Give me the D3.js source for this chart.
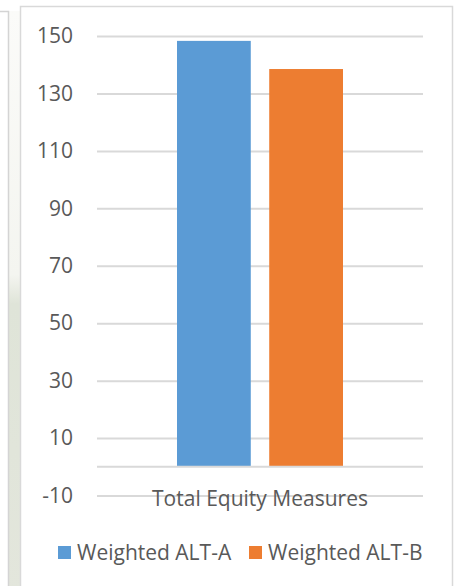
<!DOCTYPE html>
<html>
<head>
<meta charset="utf-8">
<script src="https://cdn.jsdelivr.net/npm/d3@7"></script>
<style>
  body { margin: 0; background: #fff; }
  svg { display: block; }
</style>
</head>
<body>
<div id="graph"></div>
<script>
const categories = ["Total Equity Measures"];
const seriesNames = ["Weighted ALT-A", "Weighted ALT-B"];
const seriesValues = [148.3, 138.5];
const tickValues = [-10, 10, 30, 50, 70, 90, 110, 130, 150];

const palette = {
  blue: "#5b9bd5",
  orange: "#ed7d31",
  grid: "#d9d9d9",
  text: "#595959",
  border: "#d9d9d9"
};

const width = 456, height = 586;
const font = "'Open Sans', 'Noto Sans', sans-serif";

const svg = d3.select("#graph").append("svg")
  .attr("width", width)
  .attr("height", height);

// bits of the page around the chart
const strip = svg.append("defs").append("linearGradient")
  .attr("id", "strip").attr("x1", 0).attr("x2", 0).attr("y1", 0).attr("y2", 1);
strip.append("stop").attr("offset", "0%").attr("stop-color", "#fbfbf9");
strip.append("stop").attr("offset", "45%").attr("stop-color", "#f4f5f0");
strip.append("stop").attr("offset", "50%").attr("stop-color", "#dfe4d8");
strip.append("stop").attr("offset", "100%").attr("stop-color", "#e3e6dc");
svg.append("rect").attr("x", 9).attr("y", 11).attr("width", 11).attr("height", height)
  .attr("fill", "url(#strip)");
svg.append("path").attr("d", "M0,11.5H8.5V586")
  .attr("fill", "none").attr("stroke", "#d4d4d4").attr("stroke-width", 1.5);

// chart box
svg.append("rect").attr("x", 20.5).attr("y", 6.5).attr("width", 432).attr("height", 600)
  .attr("fill", "#fff").attr("stroke", palette.border).attr("stroke-width", 1.5);

const plot = { left: 97, right: 423, top: 36, bottom: 495.5 };

const y = d3.scaleLinear().domain([-10, 150]).range([plot.bottom, plot.top]);

const x0 = d3.scaleBand().domain(categories)
  .range([plot.left, plot.right]).paddingInner(0).paddingOuter(0.482);
const x1 = d3.scaleBand().domain(seriesNames)
  .range([0, x0.bandwidth()]).paddingInner(0.2).paddingOuter(0);
const color = d3.scaleOrdinal().domain(seriesNames).range([palette.blue, palette.orange]);

// gridlines + y labels through an axis
const yAxis = svg.append("g")
  .attr("transform", "translate(" + plot.left + ",0)")
  .call(d3.axisLeft(y).tickValues(tickValues)
    .tickSize(-(plot.right - plot.left)).tickPadding(24).tickFormat(d => String(d)));
yAxis.select(".domain").remove();
yAxis.selectAll(".tick line").attr("stroke", palette.grid).attr("stroke-width", 2);
yAxis.selectAll(".tick text")
  .attr("fill", palette.text)
  .attr("font-family", font)
  .attr("font-size", "21px");

// bars
const groups = svg.selectAll("g.cat")
  .data(categories).enter()
  .append("g").attr("class", "cat")
  .attr("transform", d => "translate(" + x0(d) + ",0)");

groups.selectAll("rect")
  .data(seriesNames.map((s, i) => ({ name: s, value: seriesValues[i] })))
  .enter().append("rect")
  .attr("x", d => x1(d.name))
  .attr("width", x1.bandwidth())
  .attr("y", d => y(d.value))
  .attr("height", d => y(0) - y(d.value))
  .attr("fill", d => color(d.name));

// zero line
svg.append("line")
  .attr("x1", plot.left).attr("x2", plot.right)
  .attr("y1", y(0)).attr("y2", y(0))
  .attr("stroke", palette.grid).attr("stroke-width", 2);

// category label
svg.selectAll("text.cat")
  .data(categories).enter()
  .append("text").attr("class", "cat")
  .attr("x", d => x0(d) + x0.bandwidth() / 2)
  .attr("y", plot.bottom + 10)
  .attr("text-anchor", "middle")
  .attr("fill", palette.text)
  .attr("font-family", font)
  .attr("font-size", "21px")
  .text(d => d);

// legend
const legendX = [58, 249];
const legend = svg.selectAll("g.legend")
  .data(seriesNames).enter()
  .append("g").attr("class", "legend")
  .attr("transform", (d, i) => "translate(" + legendX[i] + ",546)");
legend.append("rect")
  .attr("width", 13).attr("height", 13)
  .attr("fill", d => color(d));
legend.append("text")
  .attr("x", 19).attr("y", 13.5)
  .attr("fill", palette.text)
  .attr("font-family", font)
  .attr("font-size", "21px")
  .text(d => d);
</script>
</body>
</html>
